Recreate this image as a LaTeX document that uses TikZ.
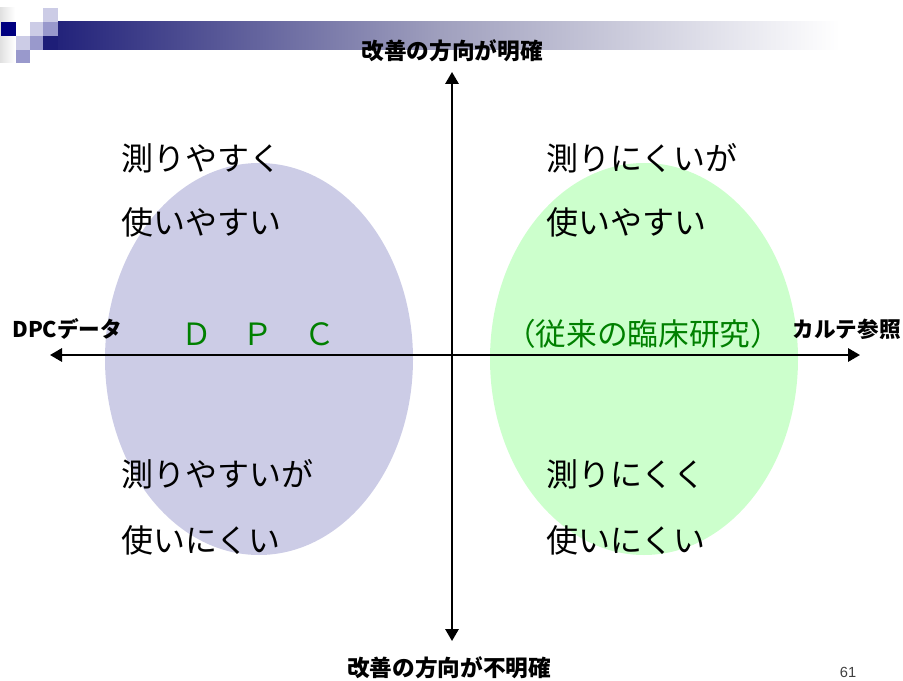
\documentclass[tikz,border=0pt]{standalone}
\usepackage{fontspec}
\setmainfont{Noto Sans CJK JP}
\newfontfamily\latinfont{Liberation Sans}
\usetikzlibrary{arrows.meta}
\definecolor{navy}{RGB}{0,0,128}
\definecolor{barnavy}{RGB}{30,30,120}
\definecolor{barmid}{RGB}{160,160,190}
\definecolor{sqlight}{RGB}{204,204,230}
\definecolor{sqmid}{RGB}{153,153,204}
\definecolor{lavender}{RGB}{204,204,230}
\definecolor{mint}{RGB}{204,255,204}
\definecolor{darkgreen}{RGB}{0,128,0}
\begin{document}
\begin{tikzpicture}[x=0.75pt,y=-0.75pt,
 body/.style={anchor=west,inner sep=0pt,font=\fontsize{24pt}{28pt}\selectfont},
 lab/.style={inner sep=0pt,font=\fontsize{17pt}{20pt}\selectfont\bfseries},
 sidelab/.style={inner sep=0pt,font=\fontsize{16.2pt}{19pt}\selectfont\bfseries},
 grn/.style={inner sep=0pt,text=darkgreen,font=\fontsize{23pt}{27pt}\selectfont},
 axis/.style={line width=1.6pt,{Triangle[length=9pt,width=10pt]}-{Triangle[length=9pt,width=10pt]}}]
\useasboundingbox (0,0) rectangle (903,681);
% header decoration
\shade[left color=black!12,right color=white] (0,8) rectangle (15,63);
\shade[left color=barnavy,right color=white,middle color=barmid] (43,22) rectangle (840,50);
\fill[sqlight] (43,8) rectangle (58,22);
\fill[navy] (1,22) rectangle (16,36);
\fill[sqlight] (30,22) rectangle (43,36);
\fill[sqmid] (43,22) rectangle (58,36);
\fill[barnavy] (43,36) rectangle (58,50);
\fill[sqlight] (16,36) rectangle (30,50);
\fill[sqmid] (30,36) rectangle (43,50);
\fill[sqmid] (16,50) rectangle (30,63);
% ellipses
\fill[lavender] (259,359) ellipse [x radius=154, y radius=196];
\fill[mint] (644,359) ellipse [x radius=154, y radius=196];
% axes
\coordinate (top) at (452,72);
\coordinate (bot) at (452,641);
\coordinate (left) at (50,355);
\coordinate (right) at (860,355);
\draw[axis] (bot) -- (top);
\draw[axis] (left) -- (right);
% labels
\node[lab] (ttop) at (452,51) {改善の方向が明確};
\node[lab] (tbot) at (449,668) {改善の方向が不明確};
\node[sidelab,anchor=west] (tl) at (12,329) {DPCデータ};
\node[sidelab,anchor=east] (tr) at (901,329) {カルテ参照};
% quadrant texts
\node[body] (a1) at (121,158) {測りやすく};
\node[body] (a2) at (121,222) {使いやすい};
\node[body] (b1) at (546,158) {測りにくいが};
\node[body] (b2) at (546,222) {使いやすい};
\node[body] (c1) at (121,474) {測りやすいが};
\node[body] (c2) at (121,540) {使いにくい};
\node[body] (d1) at (546,474) {測りにくく};
\node[body] (d2) at (546,540) {使いにくい};
\node[grn] (dpc) at (258,334) {Ｄ　Ｐ　Ｃ};
\node[grn] (conv) at (643,334) {（従来の臨床研究）};
\node[inner sep=0pt,font=\latinfont\fontsize{11pt}{13pt}\selectfont,text=black!75] (pg) at (848,672) {61};
\end{tikzpicture}
\end{document}
